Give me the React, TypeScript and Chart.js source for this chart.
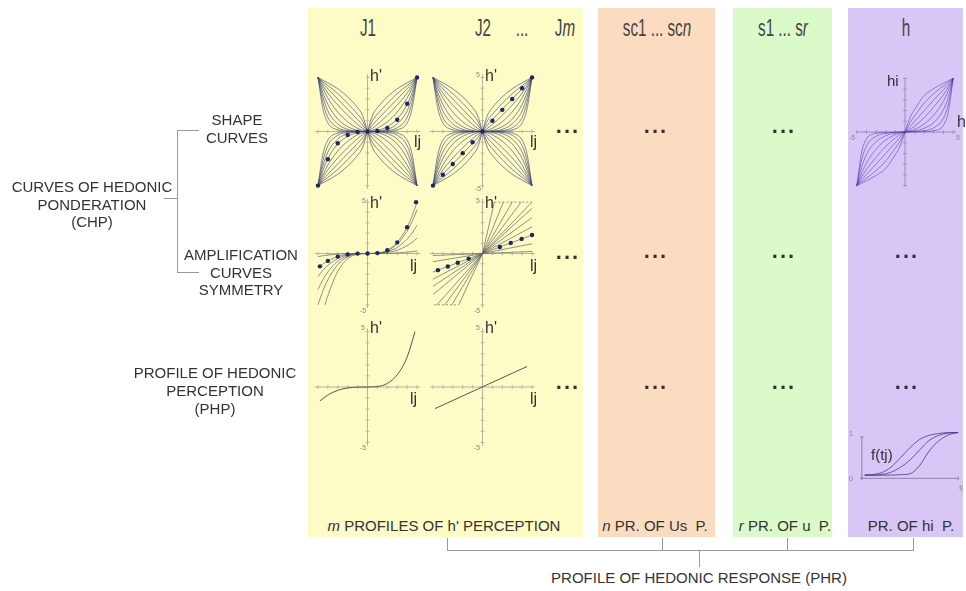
import React, { useEffect, useRef } from "react";
import { Chart, registerables } from "chart.js";
Chart.register(...registerables);

const FONT = "'Liberation Sans', Arial, Helvetica, sans-serif";

// ---------- data ----------
const AXIS_TICKS = [-5, -4, -3, -2, -1, 0, 1, 2, 3, 4, 5];

// Shape curves (first quadrant, mirrored into the others)
const SHAPE_X = [0, 0.5, 1, 2, 3, 4, 4.5, 5];
const SHAPE_CURVES = [
  [0, 1.5, 2.2, 3.2, 3.95, 4.5, 4.75, 5],
  [0, 1.0, 1.6, 2.6, 3.5, 4.25, 4.6, 5],
  [0, 0.6, 1.1, 2.05, 3.0, 3.95, 4.45, 5],
  [0, 0.3, 0.65, 1.5, 2.45, 3.55, 4.25, 5],
  [0, 0.12, 0.3, 0.9, 1.8, 3.1, 4.0, 5],
  [0, 0.03, 0.1, 0.45, 1.15, 2.5, 3.6, 5],
  [0, 0.01, 0.03, 0.2, 0.7, 1.9, 3.2, 5],
  [0, 0, 0.01, 0.08, 0.35, 1.3, 2.7, 5],
  [0, 0, 0, 0.03, 0.15, 0.8, 2.1, 5],
];
const J1_DOT_X = [-5, -4, -3, -2, -1, 0, 1, 2, 3, 4, 5];
const J1_DOT_Y = [-5, -2.56, -1.08, -0.32, -0.04, 0, 0.04, 0.32, 1.08, 2.56, 5];
const J2_DOT_X = [-5, -4, -3, -2, -1, 0, 1, 2, 3, 4, 5];
const J2_DOT_Y = [-5, -4, -3, -2, -1, 0, 1, 2, 3, 4, 5];

// Amplification curves J1
const AMP1_X_POS = [0, 1, 2, 3, 4, 4.5, 5];
const AMP1_POS = [
  [0, 0, 0.02, 0.05, 0.13, 0.18, 0.25],
  [0, 0.01, 0.1, 0.32, 0.77, 1.09, 1.5],
  [0, 0.02, 0.18, 0.59, 1.41, 2.0, 2.75],
  [0, 0.03, 0.27, 0.92, 2.18, 3.1, 4.25],
  [0, 0.04, 0.32, 1.08, 2.56, 3.65, 5],
];
const AMP1_X_NEG = [-5, -4.5, -4, -3, -2, -1, 0];
const AMP1_NEG = [
  [-0.3, -0.22, -0.15, -0.06, -0.02, 0, 0],
  [-1.4, -1.02, -0.72, -0.3, -0.09, -0.01, 0],
  [-2.25, -1.64, -1.15, -0.49, -0.14, -0.02, 0],
  [-3.5, -2.55, -1.79, -0.76, -0.22, -0.03, 0],
  [-5, -3.65, -2.56, -1.08, -0.32, -0.04, 0],
];
const AMP1_STEEP_X = [-4.3, -4, -3, -2, -1, 0];
const AMP1_STEEP_Y = [-5, -4.1, -1.73, -0.51, -0.06, 0];
const AMP1_DOT_X = [-4.8, -4, -3, -2, -1, 0, 1, 2, 3, 4, 4.9];
const AMP1_DOT_Y = [-1.25, -0.72, -0.3, -0.09, -0.01, 0, 0.04, 0.32, 1.08, 2.56, 5];

// Amplification lines J2 (ends of lines through the origin)
const AMP2_TOP_X = [1.2, 2.1, 3.0, 3.9];
const AMP2_RIGHT_Y = [5, 4.4, 3.5, 2.6, 1.8, 0.95, 0.2];
const AMP2_LEFT_Y = [-0.2, -0.8, -1.8, -2.5, -3.2, -4.0];
const AMP2_BOTTOM_X = [-4.6, -3.8, -3.1, -2.4];
const AMP2_TOP_DASH_X = [1.2, 5];
const AMP2_BOTTOM_DASH_X = [-4.9, -2.4];
const AMP2_DOT_X = [-4.5, -3.5, -2.5, -1.4, 1.75, 2.85, 3.95, 5];
const AMP2_DOT_Y = [-1.62, -1.26, -0.9, -0.5, 0.63, 1.03, 1.42, 1.8];

// Profiles of hedonic perception
const PHP1_X = [-4.8, -4, -3, -2, -1, 0, 1, 2, 3, 4, 4.8];
const PHP1_Y = [-1.25, -0.72, -0.3, -0.09, -0.01, 0, 0.04, 0.32, 1.1, 2.7, 5];
const PHP2_X = [-4.8, 4.5];
const PHP2_Y = [-1.95, 1.85];

// hi shape curves (first quadrant, mirrored into third)
const HI_X = [0, 0.5, 1, 2, 3, 4, 4.5, 5];
const HI_CURVES = [
  [0, 1.3, 2.1, 3.4, 4.05, 4.55, 4.78, 5],
  [0, 0.85, 1.5, 2.7, 3.6, 4.3, 4.65, 5],
  [0, 0.5, 1.0, 2.0, 3.0, 3.95, 4.45, 5],
  [0, 0.25, 0.55, 1.35, 2.35, 3.5, 4.2, 5],
  [0, 0.1, 0.25, 0.75, 1.6, 2.9, 3.85, 5],
  [0, 0.04, 0.1, 0.35, 0.9, 2.1, 3.3, 5],
  [0, 0.01, 0.03, 0.12, 0.4, 1.3, 2.6, 5],
  [0, 0, 0.01, 0.04, 0.12, 0.65, 1.9, 5],
];

// f(tj) curves
const FT_X = [0.3, 1, 2, 3, 4, 5, 6, 7, 8, 9, 10];
const FT_A = [0.07, 0.08, 0.12, 0.24, 0.45, 0.67, 0.85, 0.94, 0.98, 1.0, 1.0];
const FT_B = [0.07, 0.07, 0.08, 0.13, 0.24, 0.4, 0.62, 0.83, 0.94, 0.99, 1.0];
const FT_C = [0.07, 0.07, 0.07, 0.07, 0.08, 0.1, 0.28, 0.6, 0.82, 0.95, 1.0];

// ---------- helpers ----------
type Pt = { x: number; y: number };
const zip = (xs: number[], ys: number[]): Pt[] => xs.map((x, i) => ({ x, y: ys[i] }));
const mirror = (pts: Pt[], fx: number, fy: number): Pt[] =>
  pts.map((p) => ({ x: p.x * fx, y: p.y * fy })).sort((a, b) => a.x - b.x);

const curve = (data: Pt[], color: string, width = 0.8, smooth = true, dash: number[] = []) => ({
  data,
  showLine: true,
  borderColor: color,
  borderWidth: width,
  pointRadius: 0,
  pointHoverRadius: 0,
  cubicInterpolationMode: smooth ? "monotone" : "default",
  tension: smooth ? 0.4 : 0,
  borderDash: dash,
  fill: false,
});
const dots = (data: Pt[], color: string, r = 2.2) => ({
  data,
  showLine: false,
  pointRadius: r,
  pointBackgroundColor: color,
  pointBorderColor: color,
  pointBorderWidth: 0,
});
const axes = (color: string, xr: number[], yr: number[], xt: number[], yt: number[]) => [
  curve([{ x: xr[0], y: 0 }, { x: xr[1], y: 0 }], color, 1, false),
  curve([{ x: 0, y: yr[0] }, { x: 0, y: yr[1] }], color, 1, false),
  {
    data: xt.map((t) => ({ x: t, y: 0 })),
    showLine: false,
    pointStyle: "line",
    pointRotation: 90,
    pointRadius: 1.8,
    pointBorderColor: color,
    pointBorderWidth: 1,
  },
  {
    data: yt.map((t) => ({ x: 0, y: t })),
    showLine: false,
    pointStyle: "line",
    pointRotation: 0,
    pointRadius: 1.8,
    pointBorderColor: color,
    pointBorderWidth: 1,
  },
];

const quadFamily = (xs: number[], list: number[][], quads: number[][], color: string, width: number) => {
  const out: any[] = [];
  list.forEach((ys) => {
    const base = zip(xs, ys);
    quads.forEach(([fx, fy]) => out.push(curve(mirror(base, fx, fy), color, width)));
  });
  return out;
};

const AX_YEL = "#b6b49a";
const CURVE_COL = "rgba(60,62,110,0.72)";
const GRAY_LINE = "rgba(95,95,95,0.85)";
const DOT_COL = "#1d2766";

function MiniPlot(props: {
  cx: number; cy: number; sx: number; sy: number;
  x0: number; x1: number; y0: number; y1: number; datasets: any[];
}) {
  const { cx, cy, sx, sy, x0, x1, y0, y1, datasets } = props;
  const ref = useRef<HTMLCanvasElement>(null);
  const left = cx + x0 * sx;
  const top = cy - y1 * sy;
  const w = Math.round((x1 - x0) * sx);
  const h = Math.round((y1 - y0) * sy);
  useEffect(() => {
    const chart = new Chart(ref.current as HTMLCanvasElement, {
      type: "scatter",
      data: { datasets },
      options: {
        animation: false,
        responsive: false,
        maintainAspectRatio: false,
        events: [],
        layout: { padding: 0 },
        plugins: { legend: { display: false }, tooltip: { enabled: false } },
        scales: {
          x: { type: "linear", min: x0, max: x1, display: false },
          y: { type: "linear", min: y0, max: y1, display: false },
        },
      } as any,
    } as any);
    return () => chart.destroy();
  }, []);
  return (
    <canvas
      ref={ref}
      width={w}
      height={h}
      style={{ position: "absolute", left, top, width: w, height: h }}
    />
  );
}

function Txt(props: {
  x: number; y: number; s?: number; align?: "center" | "left"; color?: string;
  children: React.ReactNode; style?: React.CSSProperties;
}) {
  const { x, y, s = 15, align = "center", color = "#333", children, style } = props;
  const base: React.CSSProperties = {
    position: "absolute",
    top: y - s / 2,
    fontSize: s,
    lineHeight: `${s}px`,
    color,
    whiteSpace: "pre",
    fontFamily: FONT,
  };
  if (align === "center") {
    base.left = x - 200;
    base.width = 400;
    base.textAlign = "center";
  } else {
    base.left = x;
  }
  return <div style={{ ...base, ...style }}>{children}</div>;
}

function Block(props: { cx: number; top: number; lh: number; lines: string[] }) {
  return (
    <div
      style={{
        position: "absolute",
        left: props.cx - 120,
        width: 240,
        top: props.top,
        textAlign: "center",
        fontSize: 15,
        lineHeight: `${props.lh}px`,
        color: "#333",
        fontFamily: FONT,
      }}
    >
      {props.lines.map((l, i) => (
        <div key={i}>{l}</div>
      ))}
    </div>
  );
}

const Ell = ({ x, y }: { x: number; y: number }) => (
  <div
    style={{
      position: "absolute",
      left: x - 40,
      width: 80,
      top: y - 17,
      textAlign: "center",
      fontSize: 22,
      lineHeight: "22px",
      fontWeight: 700,
      letterSpacing: 2,
      color: "#333",
      fontFamily: FONT,
    }}
  >
    ...
  </div>
);

const Head = ({ x, children }: { x: number; children: React.ReactNode }) => (
  <Txt x={x} y={28} s={23} color="#444" style={{ transform: "scaleX(0.66)" }}>
    {children}
  </Txt>
);

const Line = ({ x, y, w, h }: { x: number; y: number; w: number; h: number }) => (
  <div style={{ position: "absolute", left: x, top: y, width: w, height: h, background: "#9a9a9a" }} />
);

const Tiny = ({ x, y, t }: { x: number; y: number; t: string }) => (
  <Txt x={x} y={y} s={7} color="#888">{t}</Txt>
);

export default function App() {
  const R = 5.5;
  const Q4 = [[1, 1], [-1, 1], [1, -1], [-1, -1]];
  const Q2 = [[1, 1], [-1, -1]];
  const axYel = axes(AX_YEL, [-5.3, 5.3], [-5.3, 5.3], AXIS_TICKS, AXIS_TICKS);

  const shapeJ1 = [
    dots(zip(J1_DOT_X, J1_DOT_Y), DOT_COL),
    ...quadFamily(SHAPE_X, SHAPE_CURVES, Q4, CURVE_COL, 0.85),
    ...axYel,
  ];
  const shapeJ2 = [
    dots(zip(J2_DOT_X, J2_DOT_Y), DOT_COL),
    ...quadFamily(SHAPE_X, SHAPE_CURVES, Q4, CURVE_COL, 0.85),
    ...axYel,
  ];
  const ampJ1 = [
    dots(zip(AMP1_DOT_X, AMP1_DOT_Y), DOT_COL),
    ...AMP1_POS.map((ys) => curve(zip(AMP1_X_POS, ys), GRAY_LINE, 0.8)),
    ...AMP1_NEG.map((ys) => curve(zip(AMP1_X_NEG, ys), GRAY_LINE, 0.8)),
    curve(zip(AMP1_STEEP_X, AMP1_STEEP_Y), GRAY_LINE, 0.8),
    ...axYel,
  ];
  const ampJ2 = [
    dots(zip(AMP2_DOT_X, AMP2_DOT_Y), DOT_COL),
    ...AMP2_TOP_X.map((x) => curve([{ x: 0, y: 0 }, { x, y: 5 }], GRAY_LINE, 0.8, false)),
    ...AMP2_RIGHT_Y.map((y) => curve([{ x: 0, y: 0 }, { x: 5, y }], GRAY_LINE, 0.8, false)),
    ...AMP2_LEFT_Y.map((y) => curve([{ x: -5, y }, { x: 0, y: 0 }], GRAY_LINE, 0.8, false)),
    ...AMP2_BOTTOM_X.map((x) => curve([{ x, y: -5 }, { x: 0, y: 0 }], GRAY_LINE, 0.8, false)),
    curve(AMP2_TOP_DASH_X.map((x) => ({ x, y: 5 })), GRAY_LINE, 0.8, false, [2, 2]),
    curve(AMP2_BOTTOM_DASH_X.map((x) => ({ x, y: -5 })), GRAY_LINE, 0.8, false, [2, 2]),
    ...axYel,
  ];
  const phpJ1 = [curve(zip(PHP1_X, PHP1_Y), "#555", 1), ...axYel];
  const phpJ2 = [curve(zip(PHP2_X, PHP2_Y), "#555", 1, false), ...axYel];

  const hiShape = [
    ...quadFamily(HI_X, HI_CURVES, Q2, "rgba(72,52,170,0.75)", 0.7),
    ...axes("#9a90b6", [-5.1, 5.3], [-5.1, 5.0], AXIS_TICKS, AXIS_TICKS),
  ];
  const ftPlot = [
    curve(zip(FT_X, FT_A), "rgba(70,50,140,0.85)", 0.9),
    curve(zip(FT_X, FT_B), "rgba(70,50,140,0.85)", 0.9),
    curve(zip(FT_X, FT_C), "rgba(70,50,140,0.85)", 0.9),
    ...axes("#8d86a6", [0, 10.1], [0, 0.92], [0, 10], [0, 0.9]),
  ];

  return (
    <div
      style={{
        position: "absolute",
        left: 0,
        top: 0,
        width: 966,
        height: 591,
        overflow: "hidden",
        background: "#ffffff",
        fontFamily: FONT,
      }}
    >
      {/* panels */}
      <div style={{ position: "absolute", left: 308, top: 8, width: 275, height: 529, background: "#fdfbc6" }} />
      <div style={{ position: "absolute", left: 598, top: 8, width: 117, height: 529, background: "#fbdcc1" }} />
      <div style={{ position: "absolute", left: 733, top: 8, width: 99, height: 529, background: "#dafbc9" }} />
      <div style={{ position: "absolute", left: 848, top: 8, width: 115, height: 529, background: "#d8c6f6" }} />

      {/* headers */}
      <Head x={368}>J1</Head>
      <Head x={483}>J2</Head>
      <Head x={522}>...</Head>
      <Head x={565}>J<i>m</i></Head>
      <Head x={657}>sc1 ... sc<i>n</i></Head>
      <Head x={783}>s1 ... s<i>r</i></Head>
      <Head x={906}>h</Head>

      {/* plots */}
      <MiniPlot cx={367} cy={131.5} sx={10.8} sy={11.7} x0={-R} x1={R} y0={-R} y1={R} datasets={shapeJ1} />
      <MiniPlot cx={482.5} cy={131.5} sx={10.8} sy={11.7} x0={-R} x1={R} y0={-R} y1={R} datasets={shapeJ2} />
      <MiniPlot cx={367.5} cy={254} sx={10.8} sy={11.2} x0={-R} x1={R} y0={-R} y1={R} datasets={ampJ1} />
      <MiniPlot cx={482} cy={254} sx={10.8} sy={11.2} x0={-R} x1={R} y0={-R} y1={R} datasets={ampJ2} />
      <MiniPlot cx={367.5} cy={387} sx={10.8} sy={12} x0={-R} x1={R} y0={-R} y1={R} datasets={phpJ1} />
      <MiniPlot cx={482} cy={387} sx={10.8} sy={12} x0={-R} x1={R} y0={-R} y1={R} datasets={phpJ2} />
      <MiniPlot cx={905} cy={132} sx={10.5} sy={11.6} x0={-R} x1={R} y0={-R} y1={R} datasets={hiShape} />
      <MiniPlot cx={857} cy={482} sx={10.6} sy={54} x0={-0.4} x1={10.4} y0={-0.08} y1={1.1} datasets={ftPlot} />

      {/* plot labels */}
      <Txt x={370} y={76} s={16} align="left">h'</Txt>
      <Txt x={414} y={142} s={16} align="left">lj</Txt>
      <Txt x={485} y={76} s={16} align="left">h'</Txt>
      <Txt x={530} y={142} s={16} align="left">lj</Txt>
      <Tiny x={478} y={74} t="5" />
      <Tiny x={478} y={188} t="-5" />

      <Txt x={370} y={203} s={16} align="left">h'</Txt>
      <Txt x={410} y={266} s={16} align="left">lj</Txt>
      <Txt x={485} y={203} s={16} align="left">h'</Txt>
      <Txt x={530} y={266} s={16} align="left">lj</Txt>
      <Tiny x={364} y={200} t="5" />
      <Tiny x={363} y={310} t="-5" />
      <Tiny x={478} y={200} t="5" />
      <Tiny x={477} y={310} t="-5" />

      <Txt x={370} y={328} s={16} align="left">h'</Txt>
      <Txt x={410} y={399} s={16} align="left">lj</Txt>
      <Txt x={485} y={328} s={16} align="left">h'</Txt>
      <Txt x={530} y={399} s={16} align="left">lj</Txt>
      <Tiny x={363} y={327} t="5" />
      <Tiny x={363} y={447} t="-5" />
      <Tiny x={478} y={327} t="5" />
      <Tiny x={477} y={447} t="-5" />

      <Txt x={887} y={80} s={15} align="left">hi</Txt>
      <Txt x={957} y={122} s={16} align="left">h</Txt>
      <Tiny x={852} y={137} t="-5" />
      <Tiny x={958} y={137} t="5" />

      <Txt x={871} y={454} s={15} align="left">f(tj)</Txt>
      <Tiny x={851} y={433} t="1" />
      <Tiny x={851} y={478} t="0" />
      <Tiny x={961} y={487} t="tj" />

      {/* ellipses */}
      <Ell x={568} y={132} />
      <Ell x={656} y={132} />
      <Ell x={784} y={132} />
      <Ell x={568} y={258} />
      <Ell x={656} y={257} />
      <Ell x={784} y={257} />
      <Ell x={907} y={257} />
      <Ell x={568} y={388} />
      <Ell x={656} y={388} />
      <Ell x={784} y={388} />
      <Ell x={907} y={388} />

      {/* left labels */}
      <Block cx={237} top={111} lh={17.5} lines={["SHAPE", "CURVES"]} />
      <Block cx={92} top={178} lh={17.5} lines={["CURVES OF HEDONIC", "PONDERATION", "(CHP)"]} />
      <Block cx={241} top={246} lh={17.5} lines={["AMPLIFICATION", "CURVES", "SYMMETRY"]} />
      <Block cx={215} top={364} lh={18} lines={["PROFILE OF HEDONIC", "PERCEPTION", "(PHP)"]} />
      <Line x={177} y={130} w={1} h={143} />
      <Line x={177} y={130} w={22} h={1} />
      <Line x={177} y={272} w={22} h={1} />
      <Line x={164} y={198} w={13} h={1} />

      {/* bottom labels */}
      <Txt x={444} y={525}><i>m</i> PROFILES OF h' PERCEPTION</Txt>
      <Txt x={655} y={525}><i>n</i> PR. OF Us  P.</Txt>
      <Txt x={785} y={525}><i>r</i> PR. OF u  P.</Txt>
      <Txt x={911} y={525}>PR. OF hi  P.</Txt>

      {/* bottom bracket */}
      <Line x={447} y={550} w={467} h={1} />
      <Line x={447} y={538} w={1} h={12} />
      <Line x={662} y={538} w={1} h={12} />
      <Line x={787} y={538} w={1} h={12} />
      <Line x={913} y={538} w={1} h={12} />
      <Line x={699} y={550} w={1} h={17} />
      <Txt x={699} y={577}>PROFILE OF HEDONIC RESPONSE (PHR)</Txt>
    </div>
  );
}
